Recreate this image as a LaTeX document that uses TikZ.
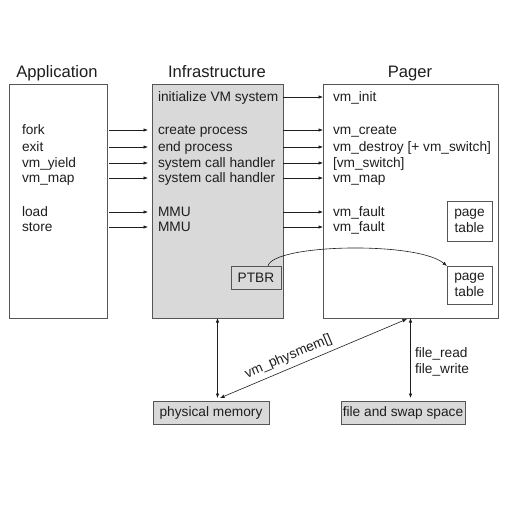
\documentclass[tikz,border=0pt]{standalone}
\usepackage{fontspec}
\setmainfont{Liberation Sans}
\usetikzlibrary{arrows.meta}
\definecolor{ink}{HTML}{1E1E1E}
\definecolor{edge}{HTML}{555555}
\definecolor{shade}{HTML}{D9D9D9}
\begin{document}
\begin{tikzpicture}[x=1pt,y=-1pt,
  every node/.style={text=ink, inner sep=0pt, outer sep=0pt},
  lbl/.style={anchor=west, font=\fontsize{13.7}{16}\selectfont, text height=9pt, text depth=0pt},
  ttl/.style={font=\fontsize{16.6}{20}\selectfont, text height=12pt, text depth=0pt},
  panel/.style={draw=edge, line width=0.8pt, anchor=north west},
  boxtext/.style={font=\fontsize{13.7}{16}\selectfont, align=center},
  arr/.style={draw=ink, line width=0.6pt, -{Latex[length=4.5pt,width=3.5pt]}},
  darr/.style={draw=ink, line width=0.6pt, {Latex[length=4.5pt,width=3.5pt]}-{Latex[length=4.5pt,width=3.5pt]}}
  ]
\useasboundingbox[fill=white] (0,0) rectangle (512,512);

% titles
\node[ttl] (tapp) at (57,71) {Application};
\node[ttl] (tinf) at (217,71) {Infrastructure};
\node[ttl] (tpag) at (410,71) {Pager};

% panels
\node[panel, minimum width=98pt, minimum height=234pt] (app) at (9,84) {};
\node[panel, fill=shade, minimum width=131pt, minimum height=234pt] (infra) at (152,84) {};
\node[panel, minimum width=175pt, minimum height=234pt] (pager) at (323,84) {};

% application labels
\node[lbl] (fork) at (22,130) {fork};
\node[lbl] (exit) at (22,147) {exit};
\node[lbl] (yield) at (22,163) {vm\_yield};
\node[lbl] (amap) at (22,178) {vm\_map};
\node[lbl] (load) at (22,212) {load};
\node[lbl] (store) at (22,227) {store};

% infrastructure labels
\node[lbl] (ivm) at (158,97) {initialize VM system};
\node[lbl] (cp) at (158,130) {create process};
\node[lbl] (ep) at (158,147) {end process};
\node[lbl] (sc1) at (158,163) {system call handler};
\node[lbl] (sc2) at (158,178) {system call handler};
\node[lbl] (mmu1) at (158,212) {MMU};
\node[lbl] (mmu2) at (158,227) {MMU};

% pager labels
\node[lbl] (vinit) at (333,97) {vm\_init};
\node[lbl] (vcreate) at (333,130) {vm\_create};
\node[lbl] (vdestroy) at (333,147) {vm\_destroy [+ vm\_switch]};
\node[lbl] (vswitch) at (333,163) {[vm\_switch]};
\node[lbl] (vmap) at (333,178) {vm\_map};
\node[lbl] (vf1) at (333,212) {vm\_fault};
\node[lbl] (vf2) at (333,227) {vm\_fault};

% small boxes
\node[panel, fill=white, boxtext, minimum width=45pt, minimum height=40pt] (pt1) at (447,201) {page\\table};
\node[panel, fill=white, boxtext, minimum width=45pt, minimum height=38pt] (pt2) at (447,266) {page\\table};
\node[panel, fill=shade, boxtext, minimum width=50pt, minimum height=23pt] (ptbr) at (231,266) {PTBR};

% bottom boxes
\node[panel, fill=shade, boxtext, minimum width=116pt, minimum height=23pt] (phys) at (153,401) {physical memory};
\node[panel, fill=shade, boxtext, minimum width=124pt, minimum height=23pt] (fs) at (341,401) {file and swap space};

% application -> infrastructure
\foreach \a/\b in {fork/cp, exit/ep, yield/sc1, amap/sc2, load/mmu1, store/mmu2}
  \draw[arr, shorten <=2pt, shorten >=10pt] (app.east |- \a) -- (\b);

% infrastructure -> pager
\foreach \a/\b in {ivm/vinit, cp/vcreate, ep/vdestroy, sc1/vswitch, sc2/vmap, mmu1/vf1, mmu2/vf2}
  \draw[arr] (infra.east |- \a) -- (pager.west |- \b);

% PTBR -> page table
\draw[arr] ([xshift=-13pt]ptbr.north east) .. controls +(5,-22) and +(-30,-25) .. (pt2.north west);

% bottom connectors
\draw[darr, shorten >=3pt] (infra.south) -- (infra.south |- phys.north);
\draw[darr, shorten >=3pt] (pager.south) -- (pager.south |- fs.north);
\coordinate (dl) at (220,398);
\coordinate (dr) at (407,319);
\draw[darr] (dl) -- node[pos=0.39, above=5pt, sloped, font=\fontsize{13.7}{16}\selectfont] (phl) {vm\_physmem[]} (dr);

\node[lbl] (fread) at (415,353) {file\_read};
\node[lbl] (fwrite) at (415,369) {file\_write};
\end{tikzpicture}
\end{document}
